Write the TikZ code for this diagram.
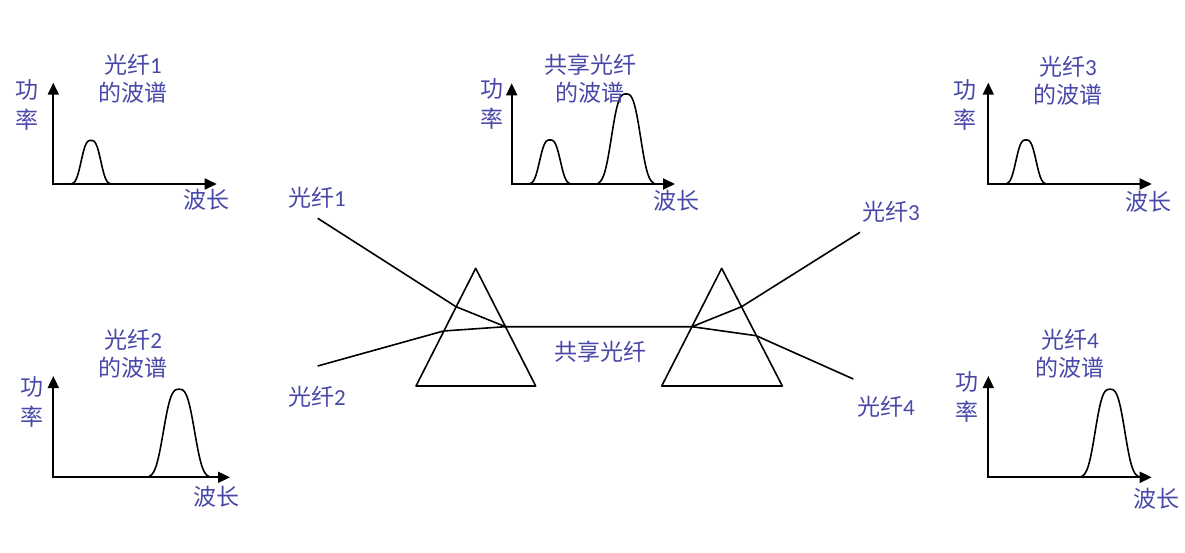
\documentclass[tikz,border=0pt]{standalone}
\usepackage{fontspec}
\setmainfont{Carlito}
\newfontfamily\cjk{Noto Sans CJK SC}
\usetikzlibrary{arrows.meta}
\definecolor{txt}{RGB}{72,72,168}
\tikzset{
  lbl/.style={text=txt, font=\fontsize{23}{28}\selectfont\cjk, align=center, inner sep=0pt},
  ax/.style={line width=1.8pt, line join=miter, {Triangle[length=12pt,width=11pt]}-{Triangle[length=12pt,width=11pt]}},
  ln/.style={line width=1.6pt, line join=round},
  pk/.style={line width=1.6pt}
}
\newcommand\peakcurve[4]{%
  \pgfmathsetmacro\pka{#1-#2}%
  \pgfmathsetmacro\pkb{#1+#2}%
  \draw[pk] plot[smooth, domain=\pka:\pkb, samples=50]
    (\x, {#3-#4*exp(-(abs((\x-#1)/(#2*0.6))^3))});}
\begin{document}
\begin{tikzpicture}[x=1pt, y=-1pt]
\useasboundingbox (0,0) rectangle (1185,553);

% ---------- spectrum plot 1 (top left)
\coordinate (o1) at (53.3,184);
\coordinate (y1) at (53.3,82.7);
\coordinate (x1) at (216.7,184);
\draw[ax] (y1) -- (o1) -- (x1);
\peakcurve{91}{19}{184}{43.5}
\node[lbl] (p1) at (26.7,105) {功\\[2pt]率};
\node[lbl] (t1) at (133,79.2) {光纤{\rmfamily 1}\\的波谱};
\node[lbl] (w1) at (206.7,200) {波长};

% ---------- shared spectrum (top middle)
\coordinate (om) at (511.7,184);
\coordinate (ym) at (511.7,83.3);
\coordinate (xm) at (675,184);
\draw[ax] (ym) -- (om) -- (xm);
\peakcurve{550}{20}{184}{44}
\peakcurve{626}{28}{184}{90}
\node[lbl] (pm) at (491.7,104) {功\\[2pt]率};
\node[lbl] (tm) at (590,79.2) {共享光纤\\的波谱};
\node[lbl] (wm) at (676.7,200.5) {波长};

% ---------- spectrum plot 3 (top right)
\coordinate (o3) at (988.3,184);
\coordinate (y3) at (988.3,82.7);
\coordinate (x3) at (1151.7,184);
\draw[ax] (y3) -- (o3) -- (x3);
\peakcurve{1026}{19.5}{184}{44}
\node[lbl] (p3) at (965,105) {功\\[2pt]率};
\node[lbl] (t3) at (1068,81) {光纤{\rmfamily 3}\\的波谱};
\node[lbl] (w3) at (1148,201.7) {波长};

% ---------- spectrum plot 2 (bottom left)
\coordinate (o2) at (53.3,477.3);
\coordinate (y2) at (53.3,376);
\coordinate (x2) at (230,477.3);
\draw[ax] (y2) -- (o2) -- (x2);
\peakcurve{179}{30}{477.3}{88}
\node[lbl] (p2) at (31.7,401.7) {功\\[2pt]率};
\node[lbl] (t2) at (133.3,354) {光纤{\rmfamily 2}\\的波谱};
\node[lbl] (w2) at (216.7,496.7) {波长};

% ---------- spectrum plot 4 (bottom right)
\coordinate (o4) at (988.3,477.3);
\coordinate (y4) at (988.3,376);
\coordinate (x4) at (1151.7,477.3);
\draw[ax] (y4) -- (o4) -- (x4);
\peakcurve{1110}{28.5}{477.3}{88}
\node[lbl] (p4) at (966.7,396.7) {功\\[2pt]率};
\node[lbl] (t4) at (1070,353.3) {光纤{\rmfamily 4}\\的波谱};
\node[lbl] (w4) at (1156.7,498.3) {波长};

% ---------- prisms
\coordinate (la) at (475.7,268.3);
\coordinate (lb) at (416,386);
\coordinate (lc) at (535.7,386);
\draw[ln] (la) -- (lb) -- (lc) -- cycle;
\coordinate (ra) at (721.7,268.3);
\coordinate (rb) at (661.7,386);
\coordinate (rc) at (782.3,386);
\draw[ln] (ra) -- (rb) -- (rc) -- cycle;

% ---------- fibres
\coordinate (f1s) at (317.7,218.3);
\coordinate (f1i) at (456,306.7);
\coordinate (f2s) at (317.7,366);
\coordinate (f2i) at (443.5,331);
\coordinate (jl) at (505.5,326.7);
\coordinate (jr) at (692,326.7);
\coordinate (f3i) at (741.6,306.7);
\coordinate (f3e) at (860,232.3);
\coordinate (f4i) at (756.2,335.7);
\coordinate (f4e) at (853.3,379);
\draw[ln] (f1s) -- (f1i) -- (jl) -- (jr);
\draw[ln] (f2s) -- (f2i) -- (jl);
\draw[ln] (jr) -- (f3i) -- (f3e);
\draw[ln] (jr) -- (f4i) -- (f4e);

\node[lbl] (n1) at (317,198) {光纤{\rmfamily 1}};
\node[lbl] (n2) at (317,397) {光纤{\rmfamily 2}};
\node[lbl] (n3) at (891,212) {光纤{\rmfamily 3}};
\node[lbl] (n4) at (886,407) {光纤{\rmfamily 4}};
\node[lbl] (ns) at (600,352) {共享光纤};
\end{tikzpicture}
\end{document}
